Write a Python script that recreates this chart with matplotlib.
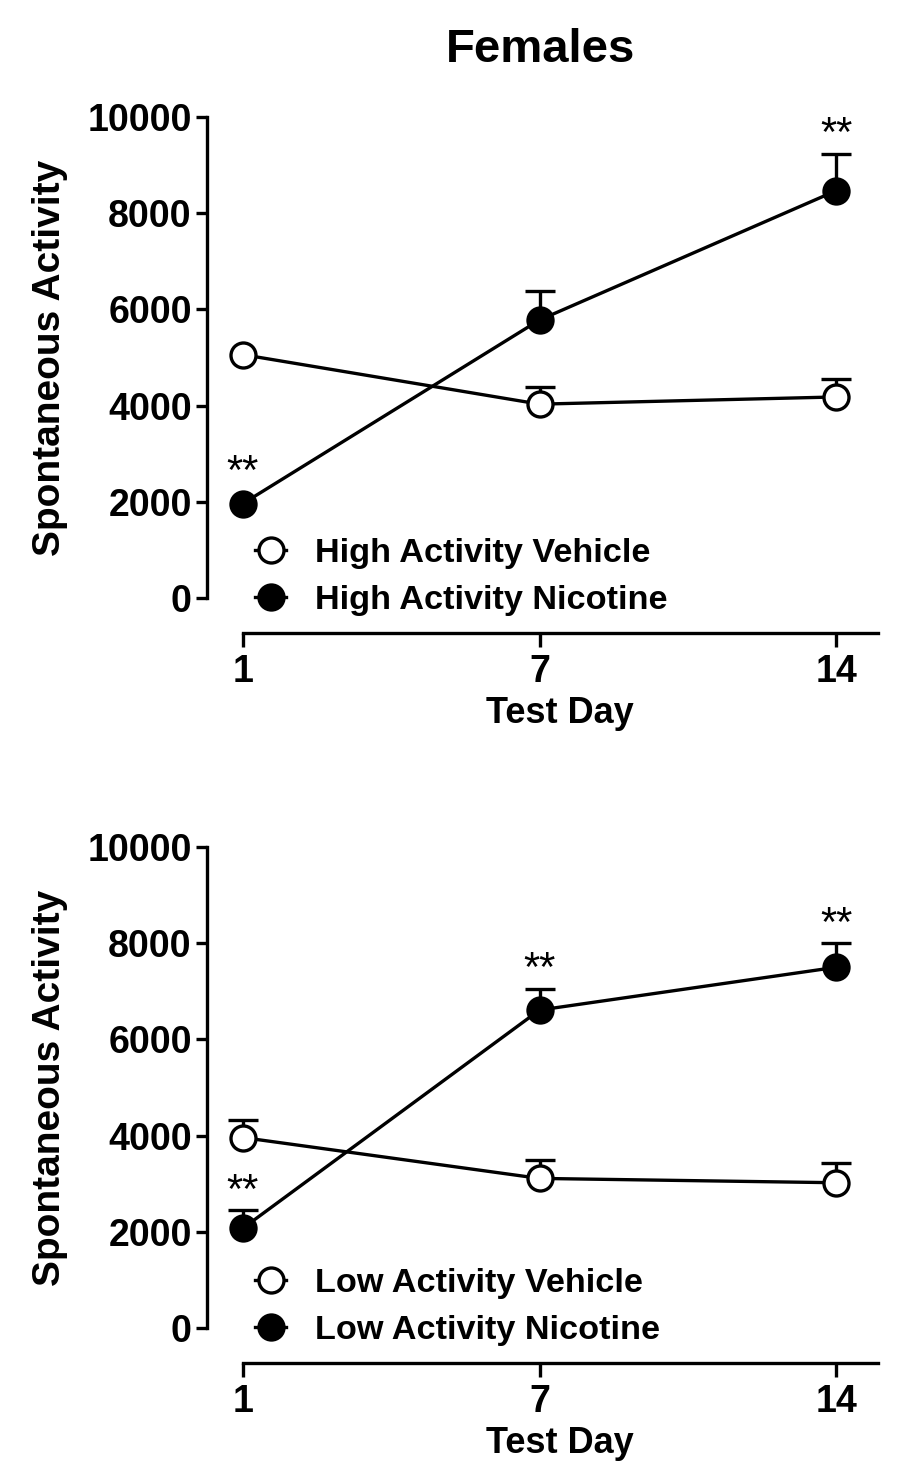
import matplotlib
matplotlib.use("Agg")
import matplotlib.pyplot as plt
from matplotlib.lines import Line2D

plt.rcParams['font.family'] = ['Liberation Sans', 'DejaVu Sans']

# ---- data ----
days = ['1', '7', '14']
high_veh = [5060, 4030, 4180]
high_veh_sem = [0, 350, 380]      # error bar hidden by marker on day 1
high_nic = [1960, 5780, 8470]
high_nic_sem = [0, 610, 770]      # error bar hidden by marker on day 1
high_stars = [True, False, True]

low_veh = [3960, 3110, 3020]
low_veh_sem = [360, 390, 420]
low_nic = [2070, 6610, 7500]
low_nic_sem = [380, 440, 500]
low_stars = [True, True, True]

yticks = [0, 2000, 4000, 6000, 8000, 10000]

W, H = 915, 1479
fig = plt.figure(figsize=(W / 100, H / 100), dpi=100)

LW = 2.4
MS = 18
MEW = 2.4


def px2fig(x0, y0, x1, y1):
    return [x0 / W, 1 - y1 / H, (x1 - x0) / W, (y1 - y0) / H]


def panel(rect, veh, veh_sem, nic, nic_sem, stars, lab_veh, lab_nic):
    ax = fig.add_axes(rect)
    xs = list(range(len(days)))
    for vals, sem, fc in [(nic, nic_sem, 'black'), (veh, veh_sem, 'white')]:
        ex = [x for x, s in zip(xs, sem) if s > 0]
        ev = [v for v, s in zip(vals, sem) if s > 0]
        et = [v + s for v, s in zip(vals, sem) if s > 0]
        if ex:
            ax.vlines(ex, ev, et, color='black', lw=LW, zorder=2)
            ax.plot(ex, et, ls='none', marker='_', ms=21, mew=LW,
                    color='black', zorder=2)
        ax.plot(xs, vals, '-', color='black', lw=LW, zorder=3)
        ax.plot(xs, vals, 'o', ms=MS, mfc=fc, mec='black', mew=MEW, zorder=4)
    for x, v, s, st in zip(xs, nic, nic_sem, stars):
        if st:
            ax.annotate('**', xy=(x, v + max(s, 260)), xytext=(0, -1),
                        textcoords='offset points', ha='center', va='bottom',
                        fontsize=30)
    ax.set_xlim(-0.12, 2.14)
    ax.set_ylim(0, 10000)
    ax.set_xticks(xs)
    ax.set_xticklabels(days)
    ax.set_yticks(yticks)
    ax.set_yticklabels([str(t) for t in yticks])
    for sp in ['top', 'right']:
        ax.spines[sp].set_visible(False)
    ax.spines['left'].set_linewidth(LW)
    ax.spines['bottom'].set_linewidth(LW)
    ax.spines['bottom'].set_position(('outward', 25))
    ax.spines['bottom'].set_bounds(0, 2.14)
    ax.tick_params(axis='both', width=LW, length=8, direction='out',
                   labelsize=27, pad=3)
    ax.tick_params(axis='x', length=10, pad=5)
    for lbl in ax.get_xticklabels() + ax.get_yticklabels():
        lbl.set_fontweight('bold')
    ax.set_ylabel('Spontaneous Activity', fontsize=28, fontweight='bold')
    ax.yaxis.set_label_coords(-0.207, 0.5)
    ax.set_xlabel('Test Day', fontsize=26, fontweight='bold')
    ax.xaxis.set_label_coords(0.526, -0.203)
    ax.patch.set_alpha(0)
    handles = [
        Line2D([], [], color='black', lw=LW, marker='o', ms=MS, mfc='white',
               mec='black', mew=MEW),
        Line2D([], [], color='black', lw=LW, marker='o', ms=MS, mfc='black',
               mec='black', mew=MEW),
    ]
    ax.legend(handles, [lab_veh, lab_nic], loc='upper left',
              bbox_to_anchor=(0.072, 0.124), frameon=False,
              handlelength=0.9, handletextpad=0.85, labelspacing=0.45,
              borderpad=0, borderaxespad=0,
              prop={'size': 24.7, 'weight': 'bold'})
    return ax


ax1 = panel(px2fig(207, 117, 878, 598), high_veh, high_veh_sem, high_nic,
            high_nic_sem, high_stars, 'High Activity Vehicle',
            'High Activity Nicotine')
ax2 = panel(px2fig(207, 847, 878, 1328), low_veh, low_veh_sem, low_nic,
            low_nic_sem, low_stars, 'Low Activity Vehicle',
            'Low Activity Nicotine')

fig.text(541 / W, 1 - 50 / H, 'Females', ha='center', va='center',
         fontsize=34, fontweight='bold')

fig.savefig('out.png', dpi=100)
